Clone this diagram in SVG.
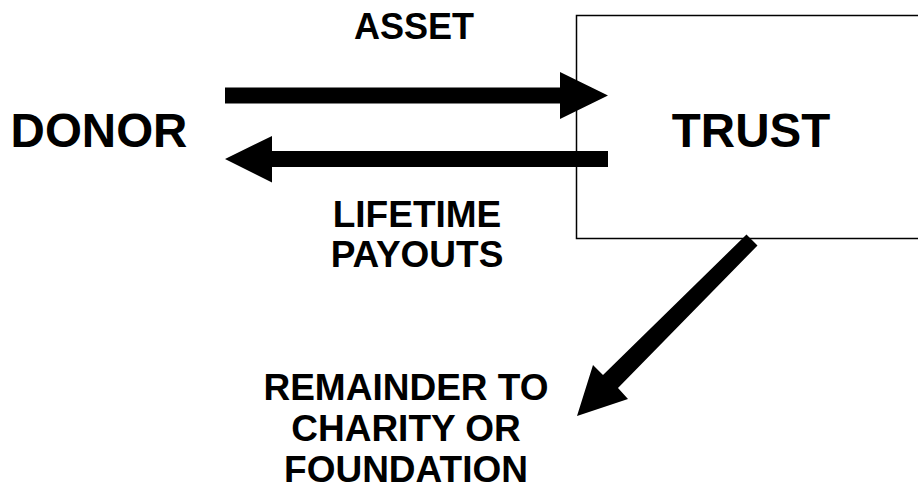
<svg xmlns="http://www.w3.org/2000/svg" width="918" height="489" viewBox="0 0 918 489">
<style>
text{font-family:"Liberation Sans",Arial,sans-serif;font-weight:bold;fill:#000;text-anchor:middle}
.big{font-size:47.5px}
.lbl{font-size:37px}
.arrow{fill:#000}
</style>
<rect width="918" height="489" fill="#fff"/>
<g id="trust">
<rect x="576.5" y="15.5" width="360" height="223" fill="#fff" stroke="#000" stroke-width="1.5"/>
<text class="big" x="751" y="147">TRUST</text>
</g>
<g id="donor">
<text class="big" x="99" y="147">DONOR</text>
</g>
<g id="remainder">
<text class="lbl" x="406" y="400">REMAINDER TO</text>
<text class="lbl" x="406" y="441">CHARITY OR</text>
<text class="lbl" x="406" y="481.5">FOUNDATION</text>
</g>
<g id="connectors">
<polygon class="arrow" points="225,87.5 560,87.5 560,72 608,95.5 560,119 560,103.5 225,103.5"/>
<text class="lbl" x="414" y="38.5" style="font-size:36px">ASSET</text>
<polygon class="arrow" points="608,151 272,151 272,136 225,159 272,182.5 272,167 608,167"/>
<text class="lbl" x="417" y="227">LIFETIME</text>
<text class="lbl" x="417" y="267">PAYOUTS</text>
<polygon class="arrow" points="746.5,234.5 757.5,245.5 618,388 628,399 577,416 593,365 603,375"/>
</g>
</svg>
